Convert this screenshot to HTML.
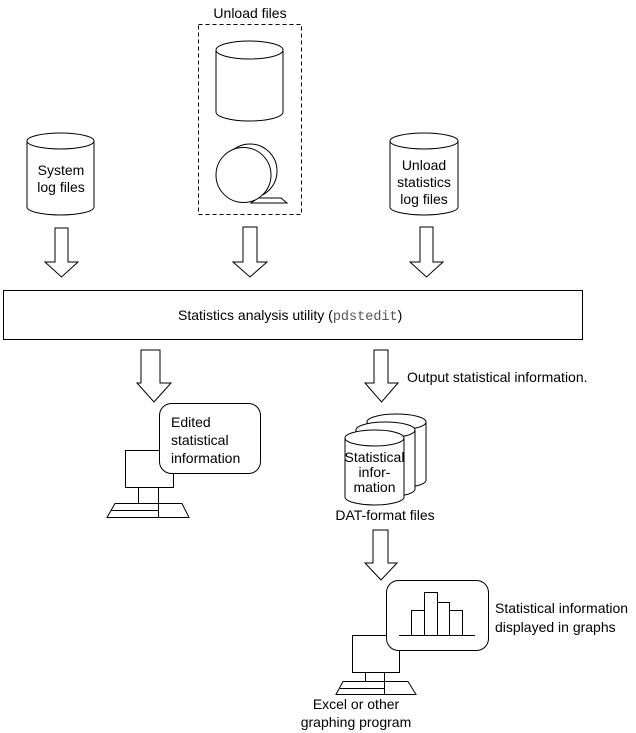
<!DOCTYPE html>
<html><head><meta charset="utf-8"><style>
html,body{margin:0;padding:0;background:#fff;}
svg{display:block;}
text{font-family:"Liberation Sans",Arial,sans-serif;font-size:14px;fill:#000;}
</style></head><body>
<svg width="636" height="733" viewBox="0 0 636 733" xmlns="http://www.w3.org/2000/svg">
<g fill="#fff" stroke="#000" stroke-width="1">
<!-- Unload files dashed box -->
<text x="250" y="18" text-anchor="middle" stroke="none">Unload files</text>
<rect x="198.5" y="24.5" width="103" height="190" fill="none" stroke-dasharray="4,3"/>
<!-- top cylinder -->
<path d="M216,50 V112 A33.5,9 0 0 0 283,112 V50"/>
<ellipse cx="249.5" cy="50" rx="33.5" ry="9"/>
<!-- tape -->
<path d="M251,203 L287,203 L281,198 L258,198 Z"/>
<circle cx="250" cy="171" r="27"/>
<circle cx="243.5" cy="175" r="27.5"/>
<!-- System log cylinder -->
<path d="M27,141 V207 A33.5,8 0 0 0 94,207 V141"/>
<ellipse cx="60.5" cy="141" rx="33.5" ry="8"/>
<text x="61" y="175" text-anchor="middle" stroke="none">System</text>
<text x="61" y="192" text-anchor="middle" stroke="none">log files</text>
<!-- Unload stats cylinder -->
<path d="M390,141 V207 A34,8 0 0 0 458,207 V141"/>
<ellipse cx="424" cy="141" rx="34" ry="8"/>
<text x="424" y="170" text-anchor="middle" stroke="none">Unload</text>
<text x="424" y="187" text-anchor="middle" stroke="none">statistics</text>
<text x="424" y="204" text-anchor="middle" stroke="none">log files</text>
<!-- top arrows -->
<path d="M55,228 H68 V262 H78 L61.5,277 L45,262 H55 Z"/>
<path d="M243,227 H257 V262 H267 L250,277 L233,262 H243 Z"/>
<path d="M420,227 H433 V262 H443 L426.5,277 L410,262 H420 Z"/>
<!-- main box -->
<rect x="3.5" y="290.5" width="579" height="49"/>
<text x="178" y="320" stroke="none">Statistics analysis utility (<tspan font-family="Liberation Mono,monospace" font-size="13.5" fill="#555">pdstedit</tspan>)</text>
<!-- lower left arrow -->
<path d="M141,350 H160 V383 H171 L154,402 L137,383 H141 Z"/>
<!-- edited computer -->
<rect x="125.5" y="450.5" width="48" height="37"/>
<rect x="138.5" y="487.5" width="20" height="16"/>
<path d="M115,503.5 H182 L189,517.5 H107 Z"/>
<path d="M111,510.5 H158 M158.5,487 V517.5" fill="none"/>
<rect x="159.5" y="403.5" width="101" height="70" rx="12"/>
<text x="171" y="427" stroke="none">Edited</text>
<text x="171" y="445" stroke="none">statistical</text>
<text x="171" y="463" stroke="none">information</text>
<!-- lower right arrow -->
<path d="M374,350 H388 V383 H398 L381.5,402 L365,383 H374 Z"/>
<text x="407" y="382" stroke="none">Output statistical information.</text>
<!-- stacked cylinders -->
<path d="M367,422 V480 A29.5,8 0 0 0 426,480 V422"/>
<ellipse cx="396.5" cy="422" rx="29.5" ry="8"/>
<path d="M356,430 V489 A29.5,8 0 0 0 415,489 V430"/>
<ellipse cx="385.5" cy="430" rx="29.5" ry="8"/>
<path d="M345,438 V497 A29.5,8 0 0 0 404,497 V438"/>
<ellipse cx="374.5" cy="438" rx="29.5" ry="8"/>
<text x="374.5" y="462" text-anchor="middle" stroke="none">Statistical</text>
<text x="374.5" y="477" text-anchor="middle" stroke="none">infor-</text>
<text x="374.5" y="492" text-anchor="middle" stroke="none">mation</text>
<text x="385" y="520" text-anchor="middle" stroke="none">DAT-format files</text>
<!-- arrow to graph -->
<path d="M373,530 H388 V563 H397 L381,580 L365,563 H373 Z"/>
<!-- graph computer -->
<rect x="352.5" y="635.5" width="47" height="37"/>
<rect x="365.5" y="672.5" width="19" height="9"/>
<path d="M343,681.5 H408 L416,694.5 H336 Z"/>
<path d="M340,688.5 H384 M384.5,672 V694.5" fill="none"/>
<rect x="386.5" y="580.5" width="102" height="70" rx="12"/>
<rect x="411.5" y="610.5" width="13" height="25"/>
<rect x="424.5" y="592.5" width="13" height="43"/>
<rect x="437.5" y="602.5" width="12" height="33"/>
<rect x="449.5" y="610.5" width="13" height="25"/>
<path d="M399,635.5 H475" fill="none"/>
<text x="495" y="613" stroke="none">Statistical information</text>
<text x="495" y="632" stroke="none">displayed in graphs</text>
<text x="356" y="709" text-anchor="middle" stroke="none">Excel or other</text>
<text x="356" y="727" text-anchor="middle" stroke="none">graphing program</text>
</g>
</svg>
</body></html>
